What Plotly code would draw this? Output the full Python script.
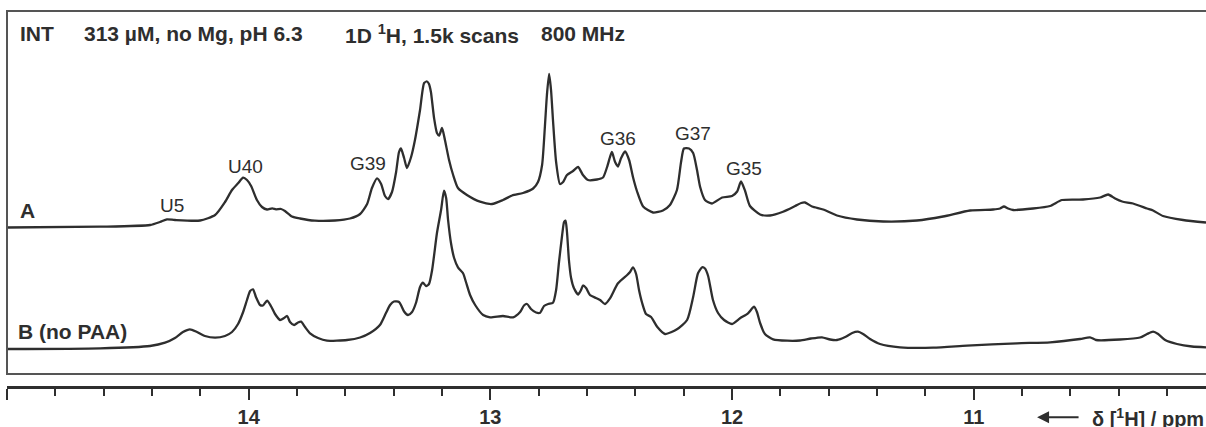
import plotly.graph_objects as go

# 1D 1H imino spectra, chemical shift in ppm (x) and intensity in arbitrary units
ppm_a = [15.000, 14.615, 14.408, 14.367, 14.338, 14.305, 14.201, 14.139, 14.098, 14.069,
         14.044, 14.023, 14.007, 13.990, 13.966, 13.945, 13.924, 13.903, 13.887, 13.866,
         13.850, 13.821, 13.788, 13.726, 13.643, 13.581, 13.539, 13.510, 13.490, 13.469,
         13.452, 13.436, 13.423, 13.407, 13.390, 13.378, 13.370, 13.357, 13.345, 13.328,
         13.312, 13.291, 13.274, 13.262, 13.254, 13.246, 13.233, 13.221, 13.212, 13.200,
         13.188, 13.171, 13.154, 13.134, 13.097, 13.043, 12.993, 12.948, 12.910, 12.865,
         12.823, 12.803, 12.786, 12.774, 12.766, 12.757, 12.749, 12.741, 12.728, 12.712,
         12.699, 12.683, 12.658, 12.637, 12.617, 12.596, 12.559, 12.534, 12.517, 12.505,
         12.497, 12.484, 12.472, 12.459, 12.443, 12.426, 12.410, 12.393, 12.368, 12.327,
         12.286, 12.257, 12.228, 12.211, 12.199, 12.178, 12.161, 12.145, 12.132, 12.112,
         12.083, 12.041, 12.000, 11.979, 11.963, 11.946, 11.926, 11.884, 11.843, 11.789,
         11.739, 11.714, 11.698, 11.669, 11.623, 11.566, 11.483, 11.375, 11.235, 11.127,
         11.015, 10.920, 10.891, 10.875, 10.858, 10.837, 10.755, 10.684, 10.635, 10.548,
         10.477, 10.444, 10.415, 10.386, 10.341, 10.283, 10.258, 10.217, 10.134, 10.039]
int_a = [0.5, 1.3, 3, 6, 8.7, 8, 7.5, 13, 26, 38,
         44.7, 50.3, 48, 42, 28, 21, 18.5, 19.7, 18.7, 19,
         17, 11.5, 9.5, 7.3, 7.5, 9.5, 14, 24, 40, 49.7,
         44, 32, 29, 36, 56, 76, 79.5, 70, 60, 71,
         88, 118, 145, 146.5, 144, 136, 110, 95, 92.5, 100,
         88, 68, 53, 40, 33, 26.3, 24, 28, 32.5, 35,
         39.5, 46, 63, 103, 133, 154, 138, 108, 66, 44,
         46, 53, 57, 61, 53, 48, 48.5, 50.5, 61, 71,
         76, 66, 61.5, 70, 76.5, 68, 51, 36.5, 21.5, 15.5,
         17.5, 23, 38, 66, 79.5, 79.5, 75, 58, 41, 28,
         24.5, 30.5, 32, 36.5, 46.5, 37, 22, 13.5, 12.5, 16.3,
         22, 25, 25.5, 21.5, 18.5, 12.5, 8.5, 6.5, 7.5, 11.5,
         17.5, 18.5, 19.5, 21.5, 19.5, 18, 19.5, 22, 28, 28.5,
         30.5, 33.5, 29.5, 26.5, 24.5, 19.5, 17.5, 12, 8, 5.5]

ppm_b = [15.000, 14.615, 14.408, 14.346, 14.305, 14.272, 14.243, 14.214, 14.181, 14.139,
         14.098, 14.069, 14.044, 14.023, 14.007, 13.994, 13.982, 13.970, 13.953, 13.941,
         13.924, 13.908, 13.891, 13.870, 13.854, 13.841, 13.829, 13.812, 13.796, 13.783,
         13.767, 13.746, 13.713, 13.676, 13.593, 13.539, 13.498, 13.457, 13.432, 13.415,
         13.399, 13.378, 13.370, 13.357, 13.341, 13.324, 13.308, 13.291, 13.279, 13.266,
         13.254, 13.241, 13.221, 13.204, 13.192, 13.183, 13.175, 13.163, 13.150, 13.134,
         13.113, 13.101, 13.084, 13.063, 13.030, 13.001, 12.948, 12.906, 12.877, 12.861,
         12.848, 12.832, 12.811, 12.794, 12.778, 12.761, 12.741, 12.728, 12.716, 12.703,
         12.695, 12.689, 12.683, 12.675, 12.666, 12.654, 12.637, 12.625, 12.617, 12.604,
         12.588, 12.563, 12.546, 12.526, 12.505, 12.472, 12.434, 12.422, 12.410, 12.397,
         12.385, 12.372, 12.356, 12.335, 12.310, 12.277, 12.228, 12.186, 12.161, 12.141,
         12.124, 12.112, 12.099, 12.079, 12.058, 12.033, 12.000, 11.967, 11.934, 11.909,
         11.897, 11.884, 11.864, 11.830, 11.772, 11.719, 11.673, 11.628, 11.594, 11.566,
         11.532, 11.503, 11.479, 11.458, 11.429, 11.388, 11.305, 11.168, 11.028, 10.821,
         10.684, 10.560, 10.519, 10.494, 10.395, 10.312, 10.283, 10.258, 10.237, 10.208,
         10.159, 10.097, 10.039]
int_b = [0, 0.7, 3, 6.3, 11, 17, 19.7, 17, 13, 11.3,
         13, 17, 25, 37, 49, 58, 59.7, 52, 44, 43.5,
         48.3, 43, 35, 29, 31, 33, 27, 24, 26.5, 27.3,
         22, 15.7, 11, 8.3, 9, 11.5, 16, 24, 36, 44,
         47.5, 47, 44, 37.5, 34, 37, 46, 62, 66.3, 63,
         65, 79, 116, 139, 158.3, 151, 129, 106, 91, 81.7,
         75.7, 67, 54, 44, 34, 31.7, 33, 31.7, 37, 43.5,
         45, 40, 36.5, 36.3, 43, 45, 46.3, 59, 87, 114,
         127, 128.3, 117, 89, 71, 60.7, 54.5, 59, 63.5, 61,
         54, 51, 49, 45, 50.7, 65.7, 74, 77, 81.7, 75,
         59, 46, 35, 32, 22.3, 15, 19.7, 29, 52, 75.7,
         81.7, 80.5, 73, 49, 36, 29, 25, 30.7, 35.7, 42.3,
         37, 26, 15, 9.7, 8.3, 8.5, 10.5, 11.7, 9.5, 9,
         12, 16, 17.3, 15, 10, 5, 1.7, 1.3, 3.3, 5.7,
         6.7, 10, 11.7, 9, 9.5, 11.5, 15, 17.3, 15, 9,
         5, 2.5, 1.7]

# Peak assignments for spectrum A: label, shift (ppm), label height (a.u. in stacked frame)
peak_names = ["U5", "U40", "G39", "G36", "G37", "G35"]
peak_ppm = [14.317, 14.015, 13.506, 12.472, 12.163, 11.950]
peak_label_y = [143.5, 182.7, 185.5, 210.7, 215.5, 181]

tick_vals = [15, 14, 13, 12, 11]
tick_text = ["", "14", "13", "12", "11"]

# vertical stacking of the two spectra
stack_offset_a = 121

INK = "#2e2e2e"
FONT = "Liberation Sans, Arial, sans-serif"

fig = go.Figure()
fig.add_trace(go.Scatter(
    x=ppm_a, y=[v + stack_offset_a for v in int_a], mode="lines",
    line=dict(color=INK, width=2.3, shape="spline", smoothing=0.6),
    hoverinfo="skip", showlegend=False))
fig.add_trace(go.Scatter(
    x=ppm_b, y=int_b, mode="lines",
    line=dict(color=INK, width=2.3, shape="spline", smoothing=0.6),
    hoverinfo="skip", showlegend=False))

for name, px_, py_ in zip(peak_names, peak_ppm, peak_label_y):
    fig.add_annotation(x=px_, y=py_, xref="x", yref="y", text=name, showarrow=False,
                       font=dict(family=FONT, size=19, color=INK),
                       xanchor="center", yanchor="middle")

def paper_text(text, x, y, size=21, bold=True, xanchor="left"):
    fig.add_annotation(x=x, y=y, xref="paper", yref="paper", text=text, showarrow=False,
                       font=dict(family=FONT, size=size, color=INK,
                                 weight="bold" if bold else "normal"),
                       xanchor=xanchor, yanchor="middle")

# header line
paper_text("INT", 0.0092, 0.9395)
paper_text("313 µM, no Mg, pH 6.3", 0.0625, 0.9395)
paper_text("1D <sup>1</sup>H, 1.5k scans", 0.2802, 0.9395)
paper_text("800 MHz", 0.4437, 0.9395)

# spectrum labels
paper_text("A", 0.0092, 0.4667)
paper_text("B (no PAA)", 0.0075, 0.1453)

# axis title with leftward arrow
paper_text("δ [<sup>1</sup>H] / ppm", 0.9030, -0.083, size=20)
fig.add_annotation(x=0.8591, y=-0.083, xref="paper", yref="paper", text="",
                   showarrow=True, ax=43, ay=0, axref="pixel", ayref="pixel",
                   arrowhead=2, arrowsize=1.2, arrowwidth=2, arrowcolor=INK)

# frame around the spectra
fig.add_shape(type="rect", xref="paper", yref="paper", x0=0, x1=1.03, y0=0.032, y1=1.0,
              line=dict(color="#555555", width=2), fillcolor="rgba(0,0,0,0)")

fig.update_layout(
    width=1206, height=427,
    margin=dict(l=7, r=0, t=11, b=41),
    paper_bgcolor="white", plot_bgcolor="white",
    xaxis=dict(range=[15, 10.039], tickvals=tick_vals, ticktext=tick_text,
               showgrid=False, zeroline=False, showline=True, linecolor=INK, linewidth=2.5,
               ticks="outside", ticklen=11, tickwidth=2, tickcolor=INK,
               tickfont=dict(family=FONT, size=20, color=INK, weight="bold"),
               minor=dict(dtick=0.2, tick0=0, ticks="outside", ticklen=7, tickwidth=2,
                          tickcolor=INK, showgrid=False)),
    yaxis=dict(range=[-37, 338], visible=False),
)

fig.write_html("out.html")
